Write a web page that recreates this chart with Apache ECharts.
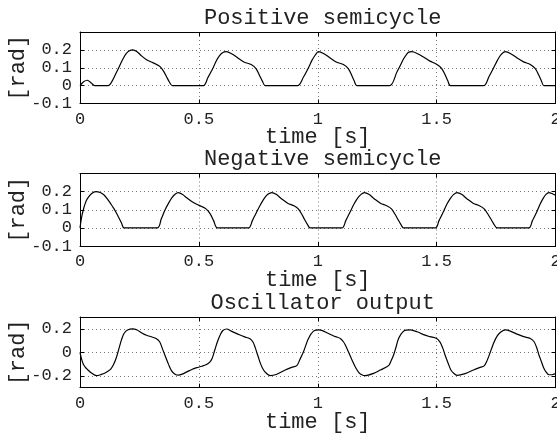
<!DOCTYPE html>
<html>
<head>
<meta charset="utf-8">
<script src="https://cdn.jsdelivr.net/npm/echarts@6/dist/echarts.min.js"></script>
<style>
html,body{margin:0;padding:0;background:#fff;}
#chart{width:557px;height:434px;}
</style>
</head>
<body>
<div id="chart"></div>
<script>
// ---- data (time [s], value [rad]) ----
const positiveSemicycle = [
  [0,0],[0.015,0.022],[0.031,0.03],[0.047,0.015],[0.063,0],[0.119,0],
  [0.135,0.025],[0.15,0.065],[0.165,0.105],[0.18,0.148],[0.195,0.18],[0.208,0.195],[0.222,0.2],
  [0.24,0.19],[0.26,0.165],[0.28,0.145],[0.3,0.132],[0.32,0.12],[0.338,0.105],[0.352,0.08],
  [0.364,0.05],[0.376,0.02],[0.388,0],
  [0.519,0],[0.538,0.045],[0.56,0.1],[0.573,0.138],[0.587,0.168],[0.601,0.185],[0.615,0.19],
  [0.636,0.18],[0.664,0.155],[0.692,0.131],[0.72,0.118],[0.741,0.094],[0.755,0.057],[0.767,0.025],[0.779,0],
  [0.915,0],[0.94,0.048],[0.961,0.1],[0.975,0.14],[0.989,0.17],[1.003,0.19],
  [1.024,0.18],[1.052,0.155],[1.08,0.131],[1.108,0.118],[1.129,0.094],[1.143,0.057],[1.154,0.025],[1.164,0],
  [1.302,0],[1.333,0.076],[1.348,0.115],[1.361,0.15],[1.382,0.187],[1.396,0.19],
  [1.418,0.18],[1.445,0.16],[1.472,0.137],[1.5,0.12],[1.521,0.097],[1.536,0.06],[1.547,0.027],[1.558,0],
  [1.698,0],[1.72,0.05],[1.74,0.1],[1.755,0.14],[1.77,0.172],[1.789,0.19],
  [1.81,0.18],[1.838,0.155],[1.866,0.133],[1.894,0.118],[1.915,0.095],[1.93,0.058],[1.941,0.026],[1.951,0],
  [2.0,0]
];
const negativeSemicycle = [
  [0,0],[0.007,0.06],[0.014,0.1],[0.022,0.135],[0.031,0.161],[0.049,0.19],[0.067,0.2],
  [0.085,0.195],[0.1,0.183],[0.115,0.16],[0.128,0.135],[0.14,0.112],[0.152,0.085],[0.165,0.052],
  [0.175,0.025],[0.185,0],
  [0.326,0],[0.342,0.05],[0.358,0.1],[0.372,0.135],[0.386,0.166],[0.4,0.186],[0.414,0.194],
  [0.43,0.185],[0.449,0.166],[0.47,0.145],[0.491,0.13],[0.512,0.118],[0.53,0.105],[0.547,0.079],
  [0.562,0.04],[0.578,0],
  [0.709,0],[0.725,0.04],[0.742,0.085],[0.76,0.13],[0.775,0.163],[0.79,0.185],[0.807,0.195],
  [0.825,0.185],[0.85,0.158],[0.875,0.135],[0.9,0.122],[0.918,0.105],[0.933,0.075],[0.945,0.045],
  [0.957,0.018],[0.968,0],
  [1.102,0],[1.118,0.04],[1.135,0.085],[1.152,0.13],[1.167,0.163],[1.182,0.185],[1.196,0.195],
  [1.215,0.185],[1.24,0.158],[1.265,0.135],[1.29,0.122],[1.31,0.105],[1.325,0.075],[1.338,0.045],
  [1.35,0.018],[1.361,0],
  [1.495,0],[1.51,0.04],[1.527,0.085],[1.543,0.13],[1.558,0.163],[1.572,0.185],[1.586,0.195],
  [1.605,0.185],[1.63,0.158],[1.655,0.135],[1.68,0.122],[1.7,0.105],[1.716,0.075],[1.73,0.045],
  [1.742,0.018],[1.754,0],
  [1.888,0],[1.903,0.04],[1.92,0.085],[1.935,0.13],[1.948,0.163],[1.96,0.185],[1.972,0.195],
  [1.985,0.19],[2.0,0.18]
];
const oscillatorOutput = [
  [0,0],[0.007,-0.06],[0.014,-0.1],[0.022,-0.125],[0.031,-0.145],[0.045,-0.17],[0.07,-0.198],
  [0.09,-0.187],[0.105,-0.175],[0.119,-0.159],[0.13,-0.14],[0.14,-0.108],[0.152,-0.05],
  [0.165,0.04],[0.175,0.11],[0.185,0.16],[0.2,0.19],[0.222,0.2],[0.24,0.19],[0.26,0.165],
  [0.28,0.145],[0.3,0.132],[0.32,0.118],[0.335,0.09],[0.345,0.04],[0.36,-0.04],[0.372,-0.1],
  [0.386,-0.16],[0.4,-0.186],[0.414,-0.194],[0.43,-0.185],[0.449,-0.166],[0.47,-0.145],
  [0.491,-0.13],[0.512,-0.118],[0.53,-0.105],[0.545,-0.085],[0.556,-0.05],[0.567,0.02],
  [0.578,0.09],[0.59,0.15],[0.601,0.185],[0.617,0.198],[0.636,0.18],[0.664,0.155],[0.692,0.131],
  [0.713,0.118],[0.727,0.09],[0.737,0.04],[0.75,-0.04],[0.76,-0.1],[0.772,-0.15],[0.785,-0.18],
  [0.8,-0.198],[0.828,-0.186],[0.863,-0.15],[0.89,-0.128],[0.912,-0.113],[0.925,-0.06],
  [0.94,0.005],[0.961,0.118],[0.982,0.18],[1.005,0.19],[1.045,0.16],[1.075,0.133],[1.095,0.118],
  [1.108,0.09],[1.116,0.062],[1.13,0.0],[1.144,-0.065],[1.158,-0.125],[1.172,-0.17],[1.185,-0.19],
  [1.2,-0.198],[1.235,-0.178],[1.263,-0.15],[1.298,-0.113],[1.309,-0.07],[1.319,-0.023],
  [1.33,0.05],[1.34,0.118],[1.361,0.18],[1.389,0.19],[1.418,0.175],[1.445,0.15],[1.472,0.133],
  [1.5,0.118],[1.515,0.085],[1.525,0.04],[1.535,-0.02],[1.548,-0.09],[1.56,-0.15],[1.573,-0.18],
  [1.586,-0.195],[1.62,-0.18],[1.655,-0.15],[1.68,-0.13],[1.7,-0.115],[1.71,-0.08],[1.72,-0.03],
  [1.74,0.08],[1.755,0.14],[1.77,0.172],[1.789,0.19],[1.81,0.18],[1.838,0.155],[1.866,0.133],
  [1.894,0.118],[1.91,0.09],[1.92,0.045],[1.93,-0.02],[1.94,-0.075],[1.95,-0.13],[1.96,-0.165],
  [1.972,-0.19],[1.985,-0.19],[2.0,-0.18]
];
const plotTitles = ['Positive semicycle', 'Negative semicycle', 'Oscillator output'];
const xLabelText = 'time [s]';
const yLabelText = '[rad]';
const xRange = [0, 2];
const xStep = 0.5;
const yRanges = [[-0.1, 0.3], [-0.1, 0.3], [-0.3, 0.3]];
const ySteps = [0.1, 0.1, 0.2];
const yLabelValues = [[-0.1, 0, 0.1, 0.2], [-0.1, 0, 0.1, 0.2], [-0.2, 0, 0.2]];
const seriesData = [positiveSemicycle, negativeSemicycle, oscillatorOutput];

// ---- layout ----
const FONT = 'Liberation Mono';
const TEXT_COLOR = '#222';
const gridPos = [
  {left: 80, top: 32, width: 475.5, height: 71.5},
  {left: 80, top: 173.5, width: 475.5, height: 72.5},
  {left: 80, top: 317, width: 475.5, height: 70.7}
];

const option = {
  animation: false,
  backgroundColor: '#fff',
  title: [], grid: [], xAxis: [], yAxis: [], series: []
};

function fmt(v) {
  const r = Math.round(v * 10) / 10;
  return r === 0 ? '0' : String(r);
}

gridPos.forEach((g, i) => {
  option.grid.push(Object.assign({containLabel: false, outerBoundsMode: 'none', show: false}, g));
  option.title.push({
    text: plotTitles[i],
    left: g.left + g.width / 2,
    top: g.top - 30,
    textAlign: 'center',
    textStyle: {fontFamily: FONT, fontSize: 22, fontWeight: 'normal', color: TEXT_COLOR}
  });
  const tickStyle = {show: true, inside: true, length: 4, lineStyle: {color: '#000', width: 1}};
  const lineStyle = {show: true, onZero: false, lineStyle: {color: '#000', width: 1}};
  // bottom x
  option.xAxis.push({
    gridIndex: i, type: 'value', min: xRange[0], max: xRange[1], interval: xStep,
    position: 'bottom',
    axisLine: lineStyle, axisTick: tickStyle,
    axisLabel: {fontFamily: FONT, fontSize: 17, color: TEXT_COLOR, margin: 7, hideOverlap: false},
    splitLine: {show: true, lineStyle: {color: '#777', width: 1, type: [1, 3]}},
    name: xLabelText, nameLocation: 'middle', nameGap: 23, nameMoveOverlap: false,
    nameTextStyle: {fontFamily: FONT, fontSize: 22, color: TEXT_COLOR}
  });
  // top x
  option.xAxis.push({
    gridIndex: i, type: 'value', min: xRange[0], max: xRange[1], interval: xStep,
    position: 'top',
    axisLine: lineStyle, axisTick: tickStyle,
    axisLabel: {show: false}, splitLine: {show: false}
  });
  const yr = yRanges[i];
  const yBase = {
    gridIndex: i, type: 'value', min: yr[0], max: yr[1]
  };
  if (Math.abs(yr[0] / ySteps[i] - Math.round(yr[0] / ySteps[i])) < 1e-9) {
    yBase.interval = ySteps[i];
  } else {
    yBase.splitNumber = 3;
    yBase.minInterval = ySteps[i];
    yBase.maxInterval = ySteps[i];
  }
  const allowed = yLabelValues[i];
  option.yAxis.push(Object.assign({}, yBase, {
    position: 'left',
    axisLine: lineStyle, axisTick: tickStyle,
    axisLabel: {
      fontFamily: FONT, fontSize: 17, color: TEXT_COLOR, margin: 8,
      showMinLabel: true, showMaxLabel: true, hideOverlap: false,
      formatter: v => allowed.some(a => Math.abs(a - v) < 1e-6) ? fmt(v) : ''
    },
    splitLine: {show: true, lineStyle: {color: '#777', width: 1, type: [1, 3]}},
    name: yLabelText, nameLocation: 'middle', nameGap: 51, nameMoveOverlap: false,
    nameTextStyle: {fontFamily: FONT, fontSize: 22, color: TEXT_COLOR}
  }));
  option.yAxis.push(Object.assign({}, yBase, {
    position: 'right',
    axisLine: lineStyle, axisTick: tickStyle,
    axisLabel: {show: false}, splitLine: {show: false}
  }));
  option.series.push({
    type: 'line',
    xAxisIndex: i * 2, yAxisIndex: i * 2,
    data: seriesData[i],
    showSymbol: false, symbol: 'none',
    smooth: 0.3,
    lineStyle: {color: '#000', width: 1.2},
    clip: true
  });
});

const chart = echarts.init(document.getElementById('chart'), null, {renderer: 'canvas'});
chart.setOption(option);
</script>
</body>
</html>
